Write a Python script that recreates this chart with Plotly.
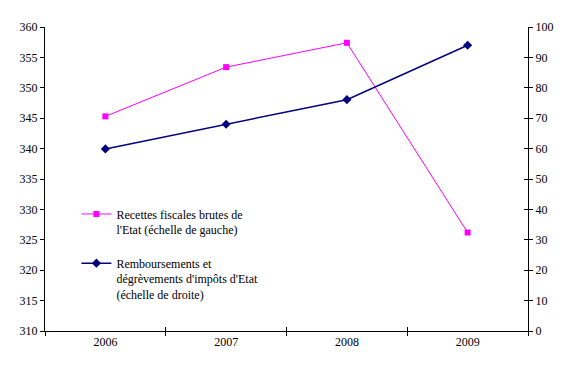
import plotly.graph_objects as go

years = ["2006", "2007", "2008", "2009"]
recettes = [345.3, 353.4, 357.4, 326.2]
remboursements = [59.9, 68.0, 76.1, 94.0]
name_recettes = "Recettes fiscales brutes de<br>l'Etat (échelle de gauche)"
name_remb = "Remboursements et<br>dégrèvements d'impôts d'Etat<br>(échelle de droite)"

FONT = "'Times New Roman', 'Liberation Serif', serif"

fig = go.Figure()
fig.add_trace(go.Scatter(
    x=years, y=recettes, name=name_recettes, mode="lines+markers",
    line=dict(color="#FF00FF", width=1),
    marker=dict(symbol="square", size=6, color="#FF00FF"),
    yaxis="y", legendgroup="a"))
fig.add_trace(go.Scatter(
    x=years, y=remboursements, name=name_remb, mode="lines+markers",
    line=dict(color="#000080", width=1.5),
    marker=dict(symbol="diamond", size=7, color="#000080"),
    yaxis="y2", legendgroup="b"))

fig.update_layout(
    width=567, height=357,
    margin=dict(l=35, r=47, t=17, b=34),
    paper_bgcolor="white", plot_bgcolor="white",
    font=dict(family=FONT, size=12, color="black"),
    showlegend=True,
    legend=dict(x=0.065, y=0.432, xanchor="left", yanchor="top",
                bgcolor="rgba(0,0,0,0)", valign="top", tracegroupgap=15,
                font=dict(family=FONT, size=12, color="black"),
                itemwidth=30),
    xaxis=dict(type="category", range=[-0.5, 3.5], showgrid=False,
               showline=True, linecolor="black", linewidth=1,
               ticks="outside", ticklen=4, tickcolor="black",
               tickson="boundaries", zeroline=False,
               tickfont=dict(family=FONT, size=12)),
    xaxis2=dict(type="category", range=[-0.5, 3.5], overlaying="x",
                matches="x", showgrid=False, showline=False,
                ticks="inside", ticklen=4, tickcolor="black",
                tickson="boundaries", showticklabels=False,
                anchor="y"),
    yaxis=dict(range=[310, 360], dtick=5, showgrid=False, zeroline=False,
               showline=True, linecolor="black", linewidth=1,
               ticks="outside", ticklen=4, tickcolor="black",
               tickfont=dict(family=FONT, size=12)),
    yaxis2=dict(range=[0, 100], dtick=10, overlaying="y", side="right",
                showgrid=False, zeroline=False,
                showline=True, linecolor="black", linewidth=1,
                ticks="outside", ticklen=4, tickcolor="black",
                tickfont=dict(family=FONT, size=12)),
    yaxis3=dict(range=[0, 100], dtick=10, overlaying="y", side="right",
                anchor="x", showgrid=False, zeroline=False, showline=False,
                ticks="inside", ticklen=4, tickcolor="black",
                showticklabels=False),
)
# invisible trace to activate the overlay axes
fig.add_trace(go.Scatter(x=years, y=remboursements, xaxis="x2", yaxis="y3",
                         mode="markers", marker=dict(opacity=0),
                         showlegend=False, hoverinfo="skip"))

fig.write_html("out.html")
